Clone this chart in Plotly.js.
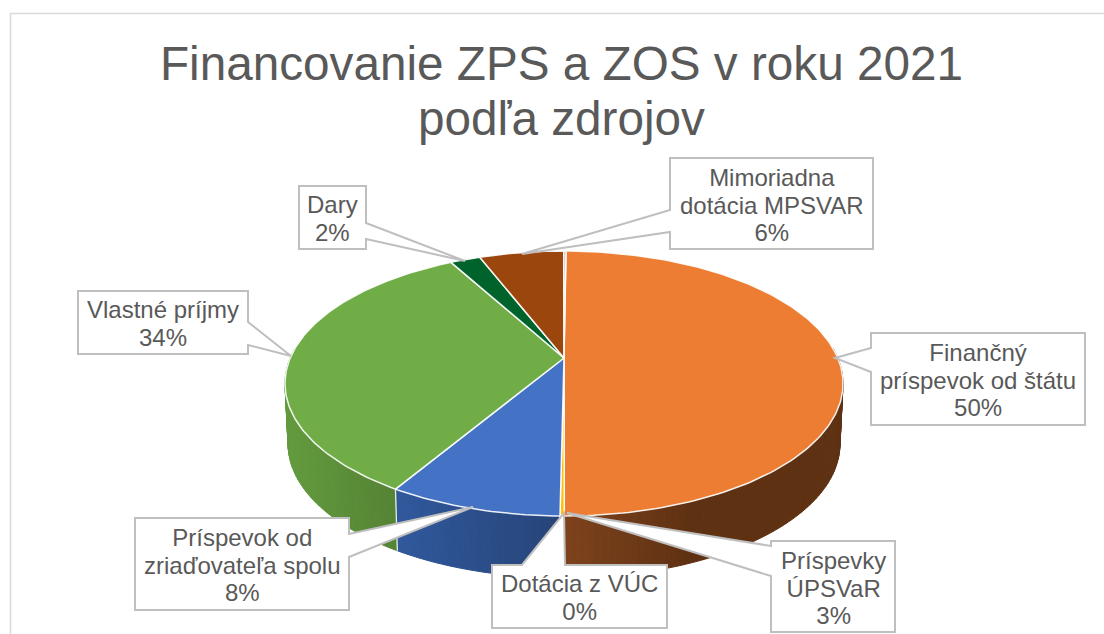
<!DOCTYPE html>
<html>
<head>
<meta charset="utf-8">
<script src="https://cdn.plot.ly/plotly-3.0.1.min.js"></script>
<style>html,body{margin:0;padding:0;background:#fff}#chart{width:1104px;height:634px}</style>
</head>
<body>
<div id="chart"></div>
<script>
// Data
const sliceNames = ['Finančný príspevok od štátu','Dotácia z VÚC','Príspevok od zriaďovateľa spolu','Vlastné príjmy','Dary','Mimoriadna dotácia MPSVAR','Príspevky ÚPSVaR'];
const sliceValues = [49.85, 0.2, 8.4, 33.4, 2.1, 5.9, 0.15];
const labelTexts = ['Finančný<br>príspevok od štátu<br>50%','Dotácia z VÚC<br>0%','Príspevok od<br>zriaďovateľa spolu<br>8%','Vlastné príjmy<br>34%','Dary<br>2%','Mimoriadna<br>dotácia MPSVAR<br>6%','Príspevky<br>ÚPSVaR<br>3%'];

// Styles
const topColors = ['#ec7d32','#ffc000','#4472c4','#70ad47','#00632c','#9b460c','#a5a5a5'];
const sideGrad = [
  {x0:566,x1:690,c0:[125,66,28],c1:[95,49,19]},
  {x0:550,x1:566,c0:[153,115,0],c1:[153,115,0]},
  {x0:400,x1:560,c0:[48,88,155],c1:[38,68,120]},
  {x0:288,x1:400,c0:[98,154,61],c1:[84,130,53]},
  {x0:0,x1:1,c0:[0,70,30],c1:[0,70,30]},
  {x0:0,x1:1,c0:[100,50,10],c1:[100,50,10]},
  {x0:0,x1:1,c0:[120,120,120],c1:[120,120,120]}
];
const startAngle = 0.5, k = 0.1925;
const topPlane = {cx:564, yc:358, a:273.8, b:127.6};
const botPlane = {cx:564, yc:418.2, a:270.8, b:129};
const labelSize = 24, labelLeading = 1.15;

function project(p, deg){
  const r = deg*Math.PI/180, w = 1 + k*Math.cos(r);
  return [p.cx + p.a*Math.sin(r)/w, p.yc - p.b*Math.cos(r)/w];
}
function sideColor(g, x){
  const t = Math.max(0, Math.min(1, (x-g.x0)/(g.x1-g.x0)));
  const c = g.c0.map((v,i)=>Math.round(v+(g.c1[i]-v)*t));
  return 'rgb('+c.join(',')+')';
}
const total = sliceValues.reduce((a,b)=>a+b,0);
const sideTraces = [], topTraces = [], seamTraces = [];
let ang = startAngle;
sliceValues.forEach((v,i)=>{
  const sweep = v/total*360, end = ang+sweep;
  const xs=[topPlane.cx], ys=[topPlane.yc];
  const steps = Math.max(2, Math.ceil(sweep));
  for(let s=0;s<=steps;s++){
    const p = project(topPlane, ang+sweep*s/steps);
    xs.push(p[0]); ys.push(p[1]);
  }
  xs.push(topPlane.cx); ys.push(topPlane.yc);
  topTraces.push({type:'scatter',mode:'lines',x:xs,y:ys,fill:'toself',fillcolor:topColors[i],
    line:{color:'rgba(255,255,255,0.9)',width:1.5},name:sliceNames[i],hoverinfo:'name',showlegend:false});
  const from = Math.max(ang,85), to = Math.min(end,275);
  if(to>from){
    const n = Math.max(1, Math.ceil((to-from)/1.25));
    for(let s=0;s<n;s++){
      const a1 = from+(to-from)*s/n, a2 = from+(to-from)*(s+1)/n;
      const p1=project(topPlane,a1),p2=project(topPlane,a2),p3=project(botPlane,a2),p4=project(botPlane,a1);
      const col = sideColor(sideGrad[i],(p1[0]+p2[0])/2);
      sideTraces.push({type:'scatter',mode:'lines',x:[p1[0],p2[0],p3[0],p4[0],p1[0]],y:[p1[1],p2[1],p3[1],p4[1],p1[1]],
        fill:'toself',fillcolor:col,line:{color:col,width:1},hoverinfo:'skip',showlegend:false});
    }
    if(end<275 && end>85){
      const a=project(topPlane,end), b=project(botPlane,end);
      seamTraces.push({type:'scatter',mode:'lines',x:[a[0],b[0]],y:[a[1],b[1]],line:{color:'rgba(255,255,255,0.85)',width:1.3},hoverinfo:'skip',showlegend:false});
    }
  }
  ang = end;
});

const callouts = [
  {box:[871,333,1085,425], path:[[871,348],[835,358],[871,372]], side:'left'},
  {box:[492,565,667,628], path:[[522,565],[564,513],[565,565]], side:'top'},
  {box:[135,518,349,610], path:[[349,534],[473,507],[349,557]], side:'right'},
  {box:[78,291,248,354], path:[[248,322],[291,356],[248,345]], side:'right'},
  {box:[299,186,366,249], path:[[366,223],[465,261],[366,239]], side:'right'},
  {box:[670,158,873,249], path:[[670,210],[522,254],[670,232]], side:'left'},
  {box:[771,541,895,632], path:[[771,546],[567,513],[771,576]], side:'left'}
];
function calloutPath(c){
  const [l,t,r,b]=c.box, P=c.path, pt=q=>q[0]+','+q[1];
  let pts;
  if(c.side==='left')  pts=[[l,t],[r,t],[r,b],[l,b],P[2],P[1],P[0]];
  if(c.side==='right') pts=[[l,t],[r,t],P[0],P[1],P[2],[r,b],[l,b]];
  if(c.side==='top')   pts=[[l,t],P[0],P[1],P[2],[r,t],[r,b],[l,b]];
  return 'M'+pts.map(pt).join('L')+'Z';
}
const shapes = callouts.map(c=>({type:'path',xref:'x',yref:'y',path:calloutPath(c),fillcolor:'#ffffff',line:{color:'#bfbfbf',width:2},layer:'above'}));
shapes.push({type:'path',xref:'x',yref:'y',path:'M10.5,634L10.5,13.5L1104,13.5',line:{color:'#d9d9d9',width:1.5},layer:'below'});

const annotations = callouts.map((c,i)=>{
  const n = labelTexts[i].split('<br>').length;
  return {
    xref:'x',yref:'y',x:(c.box[0]+c.box[2])/2,
    y:(c.box[1]+c.box[3])/2+1+(1.3-labelLeading)*labelSize*(n-1)/2,
    xanchor:'center',yanchor:'middle',text:labelTexts[i],showarrow:false,align:'center',
    font:{family:'Liberation Sans, Arial, sans-serif',size:labelSize,color:'#595959'}
  };
});

const layout = {
  width:1104,height:634,margin:{l:0,r:0,t:0,b:0},paper_bgcolor:'#fff',plot_bgcolor:'#fff',showlegend:false,
  title:{text:'Financovanie ZPS a ZOS v roku 2021<br>podľa zdrojov',font:{family:'Liberation Sans, Arial, sans-serif',size:47.7,color:'#595959'},
    x:0.5086,xanchor:'center',y:0.8735,yanchor:'middle',yref:'container'},
  xaxis:{range:[0,1104],visible:false,fixedrange:true},
  yaxis:{range:[634,0],visible:false,fixedrange:true},
  shapes:shapes,annotations:annotations
};
Plotly.newPlot('chart',[...sideTraces,...seamTraces,...topTraces],layout,{displayModeBar:false,staticPlot:true}).then(()=>{
  const lines=document.querySelectorAll('.gtitle tspan.line');
  if(lines.length>1) lines[1].setAttribute('dy','1.15em');
  document.querySelectorAll('.annotation-text').forEach(t=>{
    t.querySelectorAll('tspan.line').forEach((s,i)=>s.setAttribute('dy',(i*labelLeading)+'em'));
  });
});
</script>
</body>
</html>
